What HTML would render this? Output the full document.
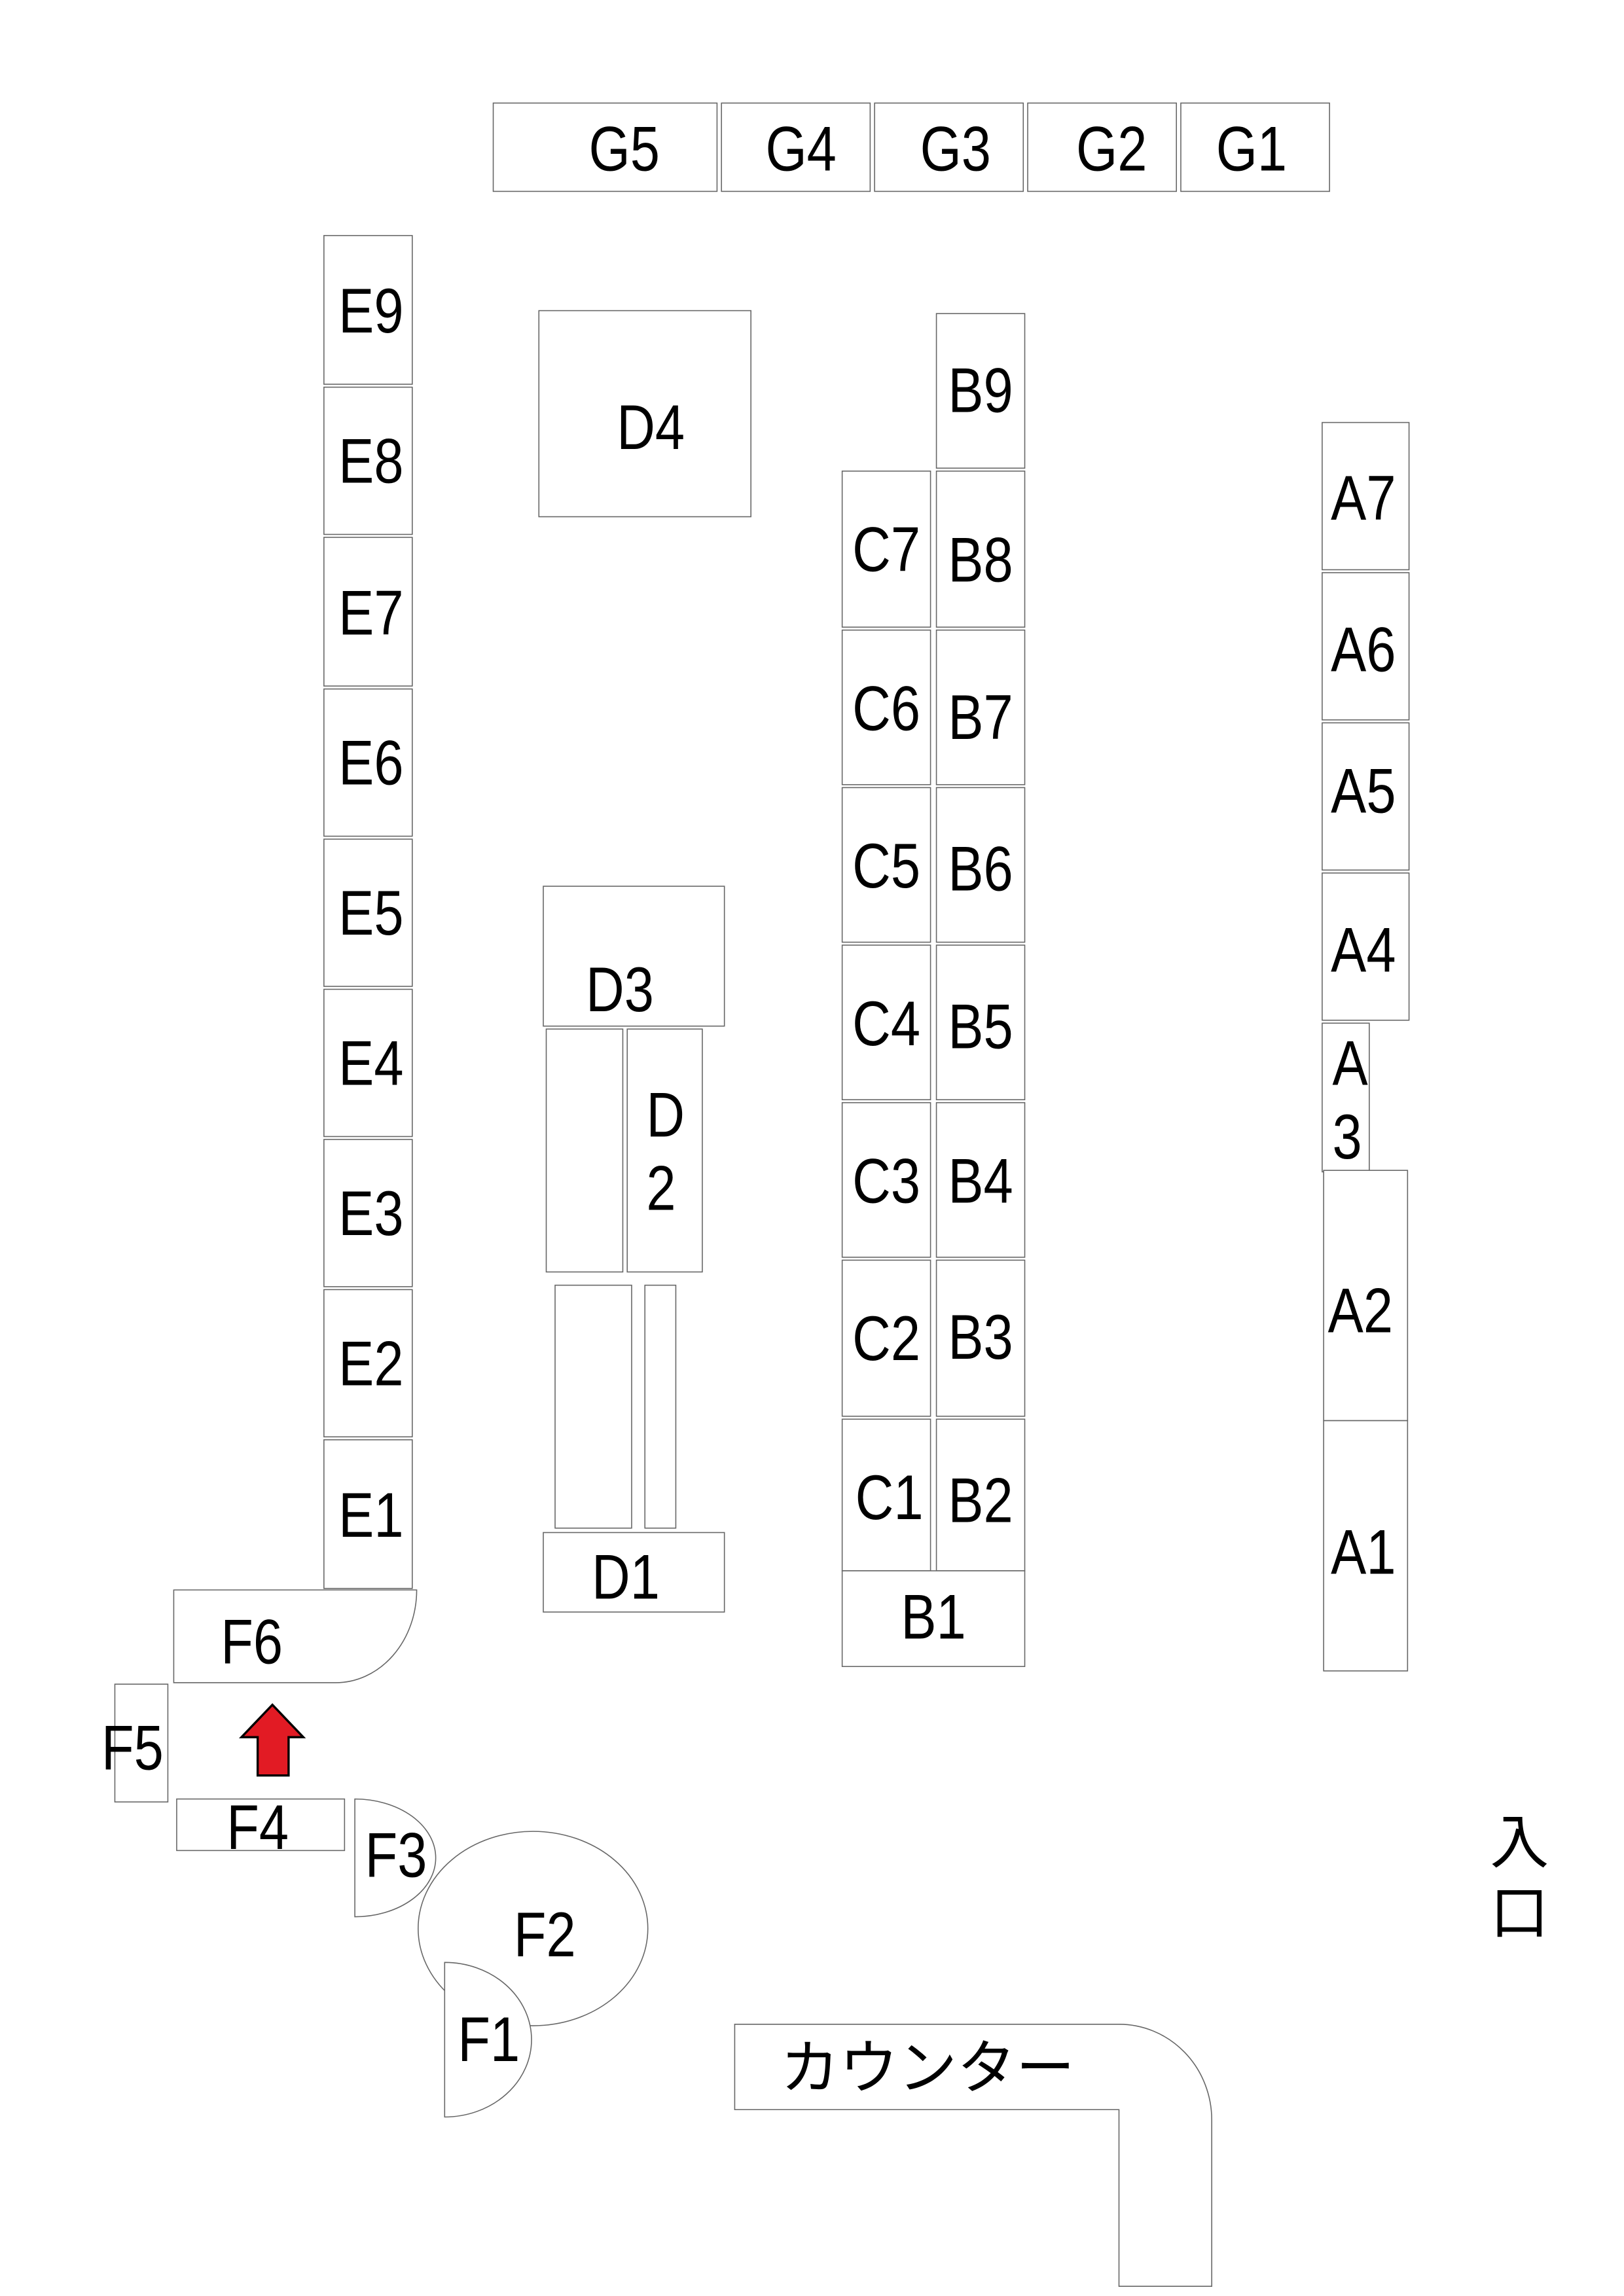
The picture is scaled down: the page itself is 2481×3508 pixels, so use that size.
<!DOCTYPE html>
<html><head><meta charset="utf-8"><style>
html,body{margin:0;padding:0;background:#fff;}
svg{display:block;}
text{font-family:"Liberation Sans","Noto Sans CJK JP",sans-serif;fill:#000;text-anchor:middle;dominant-baseline:central;}
g.lab text{transform-box:fill-box;transform-origin:center;transform:scaleX(0.84);}
</style></head><body>
<svg width="2481" height="3508" viewBox="0 0 1103 1559.6" xmlns="http://www.w3.org/2000/svg">
<g fill="#fff" stroke="#666" stroke-width="0.7">
<rect x="335" y="70" width="152" height="60"/>
<rect x="490" y="70" width="101" height="60"/>
<rect x="594" y="70" width="101" height="60"/>
<rect x="698" y="70" width="101" height="60"/>
<rect x="802" y="70" width="101" height="60"/>
<rect x="220" y="160" width="60" height="101"/>
<rect x="220" y="263" width="60" height="100"/>
<rect x="220" y="365" width="60" height="101"/>
<rect x="220" y="468" width="60" height="100"/>
<rect x="220" y="570" width="60" height="100"/>
<rect x="220" y="672" width="60" height="100"/>
<rect x="220" y="774" width="60" height="100"/>
<rect x="220" y="876" width="60" height="100"/>
<rect x="220" y="978" width="60" height="101"/>
<rect x="366" y="211" width="144" height="140"/>
<rect x="369" y="602" width="123" height="95"/>
<rect x="371" y="699" width="52" height="165"/>
<rect x="426" y="699" width="51" height="165"/>
<rect x="377" y="873" width="52" height="165"/>
<rect x="438" y="873" width="21" height="165"/>
<rect x="369" y="1041" width="123" height="54"/>
<rect x="636" y="213" width="60" height="105"/>
<rect x="572" y="320" width="60" height="106"/><rect x="636" y="320" width="60" height="106"/>
<rect x="572" y="428" width="60" height="105"/><rect x="636" y="428" width="60" height="105"/>
<rect x="572" y="535" width="60" height="105"/><rect x="636" y="535" width="60" height="105"/>
<rect x="572" y="642" width="60" height="105"/><rect x="636" y="642" width="60" height="105"/>
<rect x="572" y="749" width="60" height="105"/><rect x="636" y="749" width="60" height="105"/>
<rect x="572" y="856" width="60" height="106"/><rect x="636" y="856" width="60" height="106"/>
<rect x="572" y="964" width="60" height="103"/><rect x="636" y="964" width="60" height="103"/>
<rect x="572" y="1067" width="124" height="65"/>
<rect x="898" y="287" width="59" height="100"/>
<rect x="898" y="389" width="59" height="100"/>
<rect x="898" y="491" width="59" height="100"/>
<rect x="898" y="593" width="59" height="100"/>
<rect x="898" y="695" width="32" height="101"/>
<rect x="899" y="795" width="57" height="170"/>
<rect x="899" y="965" width="57" height="170"/>
<path d="M118,1080 H283 A55,63 0 0 1 228,1143 H118 Z"/>
<rect x="78" y="1144" width="36" height="80"/>
<rect x="120" y="1222" width="114" height="35"/>
<path d="M241,1222 A55,40 0 0 1 241,1302 Z"/>
<ellipse cx="362" cy="1310" rx="78" ry="66"/>
<path d="M302,1333 A59,52.5 0 0 1 302,1438 Z"/>
<path d="M499,1375 H760 A63,65 0 0 1 823,1440 V1553 H760 V1433 H499 Z"/>
</g>
<path d="M185,1158 L206,1180 L196,1180 L196,1206 L175,1206 L175,1180 L164,1180 Z" fill="#e21b24" stroke="#000" stroke-width="1.5"/>
<g font-size="43" class="lab">
<text x="424" y="101">G5</text><text x="544" y="101">G4</text><text x="649" y="101">G3</text><text x="755" y="101">G2</text><text x="850" y="101">G1</text>
<text x="252" y="211">E9</text><text x="252" y="313">E8</text><text x="252" y="416">E7</text><text x="252" y="518">E6</text><text x="252" y="620">E5</text><text x="252" y="722">E4</text><text x="252" y="824">E3</text><text x="252" y="926">E2</text><text x="252" y="1029">E1</text>
<text x="442" y="290">D4</text><text x="421" y="672">D3</text><text x="452" y="757">D</text><text x="449" y="807">2</text><text x="425" y="1071">D1</text>
<text x="666" y="265">B9</text>
<text x="602" y="373">C7</text><text x="666" y="380">B8</text>
<text x="602" y="481">C6</text><text x="666" y="487">B7</text>
<text x="602" y="588">C5</text><text x="666" y="590">B6</text>
<text x="602" y="695">C4</text><text x="666" y="697">B5</text>
<text x="602" y="802">C3</text><text x="666" y="802">B4</text>
<text x="602" y="909">C2</text><text x="666" y="908">B3</text>
<text x="604" y="1017">C1</text><text x="666" y="1019">B2</text>
<text x="634" y="1098">B1</text>
<text x="926" y="338">A7</text><text x="926" y="441">A6</text><text x="926" y="537">A5</text><text x="926" y="645">A4</text>
<text x="917" y="722">A</text><text x="915" y="772">3</text>
<text x="924" y="890">A2</text><text x="926" y="1054">A1</text>
<text x="171" y="1115">F6</text><text x="90" y="1187">F5</text><text x="175" y="1241">F4</text><text x="269" y="1260">F3</text><text x="370" y="1314">F2</text><text x="332" y="1385">F1</text>
</g>
<g font-size="40">
<text x="630" y="1405">カウンター</text>
<text x="1032" y="1252">入</text><text x="1032" y="1300">口</text>
</g>
</svg>
</body></html>
